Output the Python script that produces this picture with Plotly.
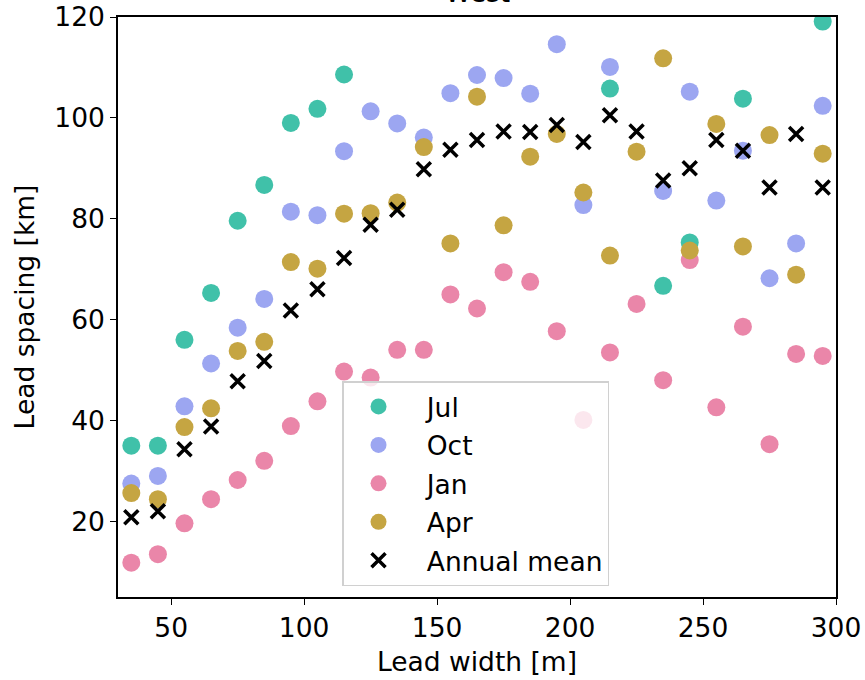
import plotly.graph_objects as go

lead_width = [35, 45, 55, 65, 75, 85, 95, 105, 115, 125, 135, 145, 155, 165, 175,
              185, 195, 205, 215, 225, 235, 245, 255, 265, 275, 285, 295]

jul = [35.0, 35.0, 56.0, 65.3, 79.6, 86.7, 99.0, 101.8, 108.6, None, None, None, None, None, None,
       None, None, None, 105.8, None, 66.7, 75.3, None, 103.8, None, None, 119.1]
oct_ = [27.5, 29.0, 42.8, 51.3, 58.4, 64.1, 81.4, 80.7, 93.4, 101.3, 98.9, 96.1, 104.9, 108.5, 107.9,
        104.8, 114.6, 82.7, 110.1, None, 85.5, 105.2, 83.6, 93.5, 68.2, 75.1, 102.4]
jan = [11.8, 13.5, 19.6, 24.4, 28.2, 32.0, 38.9, 43.8, 49.7, 48.5, 54.0, 54.0, 65.0, 62.2, 69.4,
       67.5, 57.7, 40.1, 53.5, 63.1, 48.0, 71.8, 42.6, 58.6, 35.3, 53.2, 52.8]
apr = [25.6, 24.4, 38.7, 42.4, 53.8, 55.6, 71.4, 70.1, 81.0, 81.1, 83.2, 94.2, 75.1, 104.2, 78.7,
       92.3, 96.8, 85.2, 72.7, 93.3, 111.8, 73.7, 98.8, 74.5, 96.6, 68.9, 92.9]
annual_mean = [20.8, 22.0, 34.3, 38.8, 47.8, 51.8, 61.8, 66.0, 72.2, 78.8, 81.8, 89.8, 93.7, 95.6, 97.3,
               97.2, 98.6, 95.2, 100.5, 97.3, 87.6, 90.0, 95.6, 93.5, 86.2, 96.8, 86.2]

series = [("Jul", jul, "#40c1a9"), ("Oct", oct_, "#9ca6f1"),
          ("Jan", jan, "#ea86a9"), ("Apr", apr, "#c5a542")]

font = "DejaVu Sans"
fs = 26.5
pad = "\u2002"  # small gap between legend symbol and label
fig = go.Figure()
for i, (name, vals, col) in enumerate(series):
    fig.add_trace(go.Scatter(
        x=lead_width, y=vals, mode="markers", name=pad + name, legendgroup=name,
        marker=dict(color=col, size=18, line=dict(width=0)),
    ))
fig.add_trace(go.Scatter(
    x=lead_width, y=annual_mean, mode="markers", name=pad + "Annual mean", legendgroup="mean",
    marker=dict(symbol="x-thin", color="black", size=14, line=dict(width=3.5, color="black")),
))

axis_common = dict(showline=True, linecolor="black", linewidth=1.5, mirror=True,
                   ticks="outside", ticklen=6, tickwidth=1.3, tickcolor="black",
                   showgrid=False, zeroline=False, automargin=False,
                   ticklabeloverflow="allow",
                   tickfont=dict(family=font, size=fs, color="black"))

fig.update_xaxes(range=[30, 300], tickvals=[50, 100, 150, 200, 250, 300],
                 title=dict(text="Lead width [m]", font=dict(family=font, size=fs, color="black"), standoff=11),
                 **axis_common)
fig.update_yaxes(range=[5, 120], tickvals=[20, 40, 60, 80, 100, 120],
                 title=dict(text="Lead spacing [km]", font=dict(family=font, size=fs, color="black"), standoff=12),
                 **axis_common)

fig.add_annotation(text="West", xref="paper", yref="paper", x=0.5, y=1.0,
                   yanchor="bottom", yshift=7, showarrow=False,
                   font=dict(family=font, size=fs, color="black"))

fig.update_layout(
    width=865, height=680,
    margin=dict(l=118, r=29, t=17, b=83, autoexpand=False),
    plot_bgcolor="white", paper_bgcolor="white",
    font=dict(family=font, size=fs, color="black"),
    legend=dict(x=0.312, y=0.372, xanchor="left", yanchor="top",
                bgcolor="rgba(255,255,255,0.8)", bordercolor="#d0d0d0", borderwidth=1.5,
                font=dict(family=font, size=fs, color="black"),
                traceorder="grouped", tracegroupgap=1, itemwidth=60),
    showlegend=True,
)

# remove the browser's default 8px body margin so the figure sits at the page origin
fig.write_html("out.html", config={"displayModeBar": False},
               post_script="document.body.style.margin='0';")
